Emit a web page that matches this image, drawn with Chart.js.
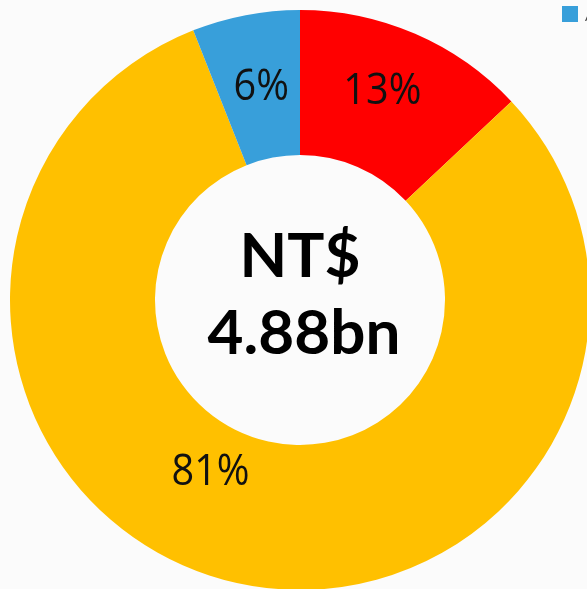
<!DOCTYPE html>
<html>
<head>
<meta charset="utf-8">
<script src="https://cdn.jsdelivr.net/npm/chart.js@4"></script>
<style>
  html, body { margin: 0; padding: 0; overflow: hidden; background: #fbfbfb; }
  #wrap { width: 600px; height: 600px; }
</style>
</head>
<body>
<div id="wrap"><canvas id="donut" width="600" height="600"></canvas></div>
<script>
// Data
const categories = ['B', 'C', 'A'];
const shares = [13, 81, 6];
const sliceColors = ['#ff0000', '#ffc000', '#389fda'];
const centerLines = ['NT$', '4.88bn'];

// Label nudges (px) relative to slice middle
const labelNudge = [[-4, -9], [-42, -40], [2, 1]];

const sliceLabels = {
    id: 'sliceLabels',
    afterDatasetsDraw(chart) {
        const ctx = chart.ctx;
        const meta = chart.getDatasetMeta(0);
        ctx.save();
        ctx.fillStyle = '#111';
        ctx.font = '44px "Open Sans"';
        ctx.textAlign = 'center';
        ctx.textBaseline = 'middle';
        meta.data.forEach(function(arc, i) {
            const p = arc.tooltipPosition();
            ctx.save();
            ctx.translate(p.x + labelNudge[i][0], p.y + labelNudge[i][1]);
            ctx.scale(0.9, 1); // narrower, Calibri-like
            ctx.fillText(shares[i] + '%', 0, 0);
            ctx.restore();
        });

        // Center total
        const c = meta.data[0];
        ctx.fillStyle = '#000';
        ctx.font = 'bold 62px Lato';
        ctx.textBaseline = 'alphabetic';
        ctx.fillText(centerLines[0], c.x, c.y - 23);
        ctx.fillText(centerLines[1], c.x + 4, c.y + 54);

        // Legend (clipped at right edge in the original)
        ctx.fillStyle = sliceColors[2];
        ctx.fillRect(562, 6, 16, 16);
        ctx.fillStyle = '#444';
        ctx.font = '15px "Open Sans"';
        ctx.textAlign = 'left';
        ctx.fillText(categories[2], 585, 21);
        ctx.restore();
    }
};

new Chart(document.getElementById('donut'), {
    type: 'doughnut',
    data: {
        labels: categories,
        datasets: [{
            data: shares,
            backgroundColor: sliceColors,
            borderWidth: 0
        }]
    },
    options: {
        responsive: false,
        animation: false,
        radius: 290,
        cutout: '50%',
        layout: { padding: 0 },
        plugins: {
            legend: { display: false },
            tooltip: { enabled: false }
        }
    },
    plugins: [sliceLabels]
});
</script>
</body>
</html>
